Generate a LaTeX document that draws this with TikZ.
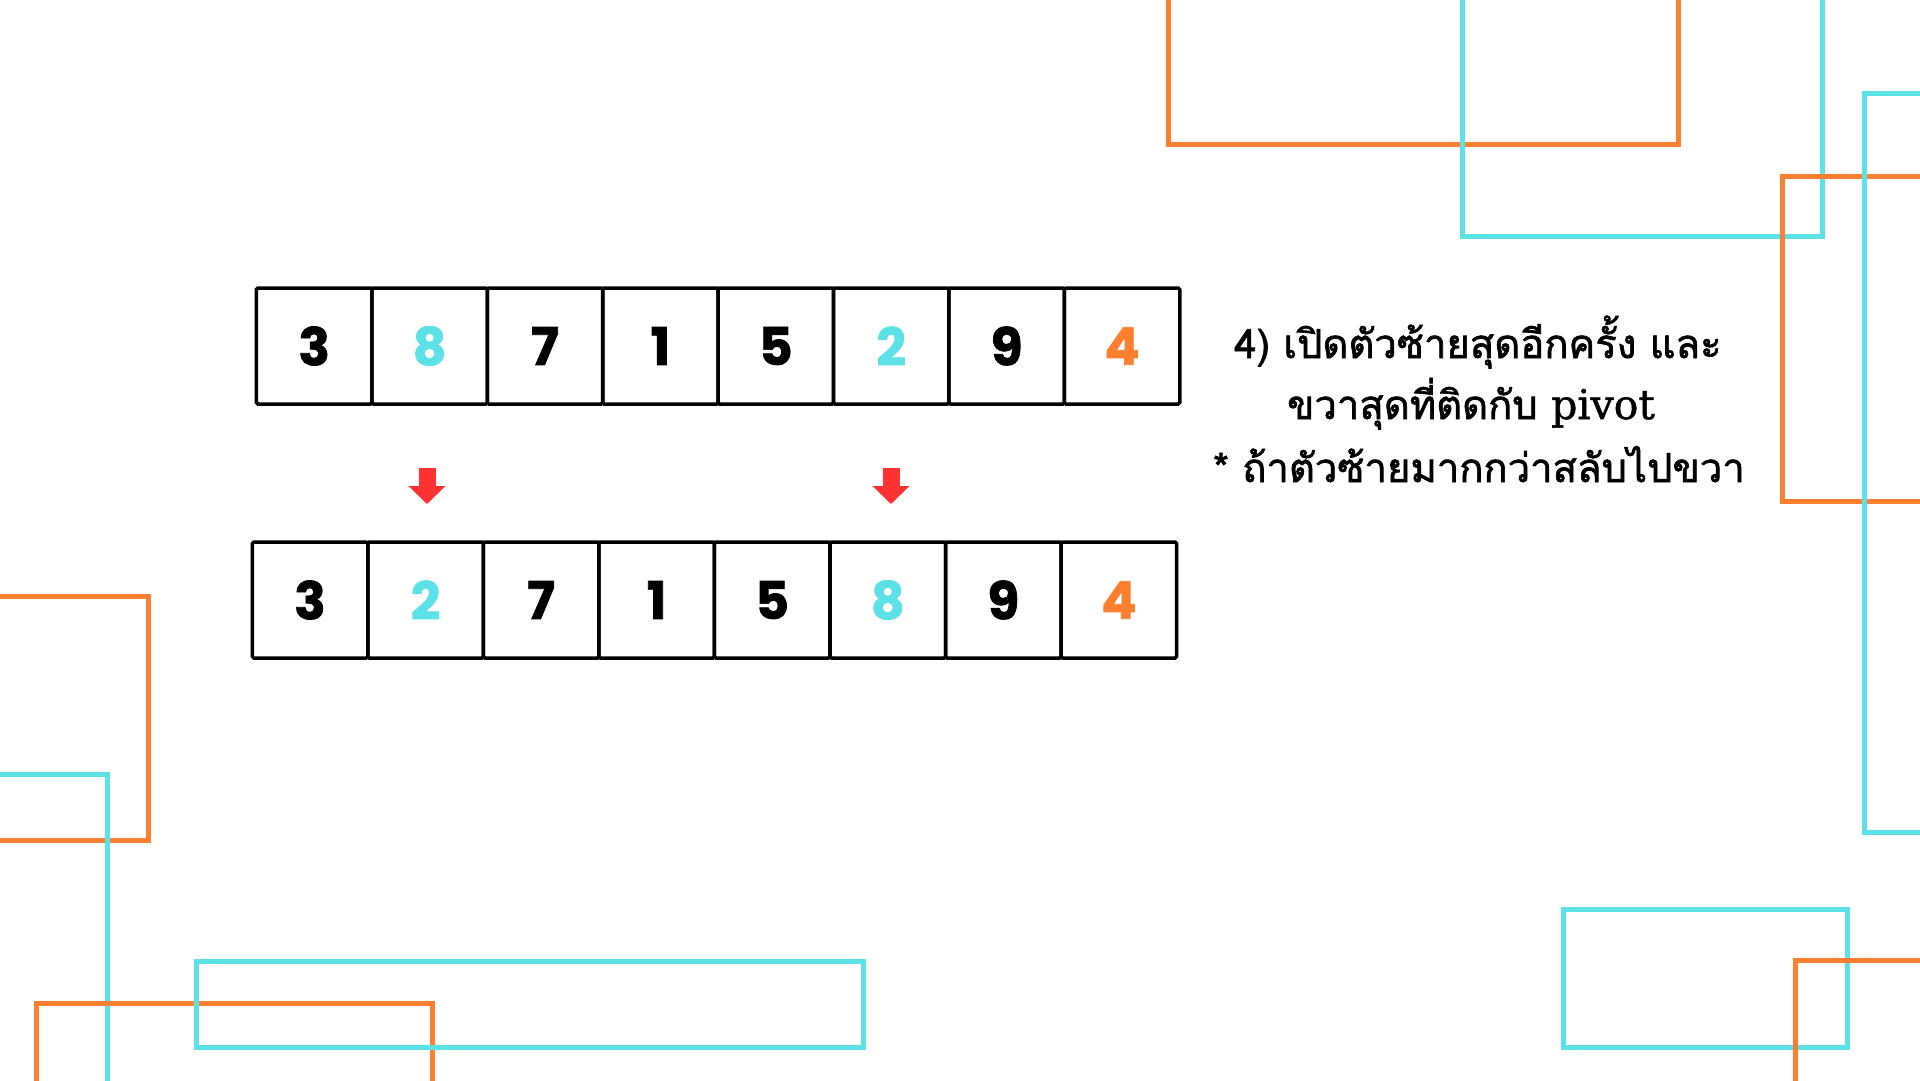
\documentclass[tikz,border=0pt]{standalone}
\usepackage{fontspec}
\usetikzlibrary{arrows.meta}
\newfontfamily\thaifont[Script=Thai,FakeBold=1.6]{Loma}
\newfontfamily\pivotfont[FakeBold=1.2]{DejaVu Serif}
\newfontfamily\digitfont[BoldFeatures={FakeBold=1.4}]{Poppins}
\definecolor{myorange}{HTML}{FF7F30}
\definecolor{mycyan}{HTML}{5CE1E6}
\definecolor{myred}{HTML}{FF3131}
\tikzset{
  deco/.style={line width=5pt},
  decoO/.style={deco, draw=myorange},
  decoC/.style={deco, draw=mycyan},
  cell/.style={draw=black, line width=3.5pt, minimum width=115.5pt, minimum height=116pt, inner sep=0pt,
    rounded corners=1.5pt, font=\digitfont\bfseries\fontsize{52}{52}\selectfont},
  plain/.style={cell, text=black},
  swapc/.style={cell, text=mycyan},
  pivotc/.style={cell, text=myorange},
  downarrow/.style={draw=myred, line width=17pt, line cap=butt, -{Triangle[length=18pt,width=36pt]}},
  note/.style={font=\thaifont\fontsize{40}{40}\selectfont, anchor=base, inner sep=0pt}
}
\begin{document}
\begin{tikzpicture}[x=1pt,y=-1pt]
\useasboundingbox (0,0) rectangle (1920,1080);
\fill[white] (0,0) rectangle (1920,1080);
\clip (0,0) rectangle (1920,1080);
% decorative rectangles
\draw[decoO] (1168,-20) rectangle (1678,144);
\draw[decoC] (1462,-20) rectangle (1822,236);
\draw[decoO] (1782,176) rectangle (1950,501);
\draw[decoC] (1864,93) rectangle (1950,832);
\draw[decoO] (-20,596) rectangle (148,840);
\draw[decoC] (-20,774) rectangle (107,1100);
\draw[decoO] (36,1003) rectangle (432,1100);
\draw[decoC] (196,961) rectangle (863,1047);
\draw[decoC] (1563,909) rectangle (1847,1047);
\draw[decoO] (1795,960) rectangle (1950,1100);
% top row
\node[plain]  (t1) at (314.2,346) {3};
\node[swapc]  (t2) at (429.6,346) {8};
\node[plain]  (t3) at (545.0,346) {7};
\node[plain]  (t4) at (660.4,346) {1};
\node[plain]  (t5) at (775.8,346) {5};
\node[swapc]  (t6) at (891.2,346) {2};
\node[plain]  (t7) at (1006.6,346) {9};
\node[pivotc] (t8) at (1122.0,346) {4};
% bottom row
\node[plain]  (b1) at (310.0,600) {3};
\node[swapc]  (b2) at (425.6,600) {2};
\node[plain]  (b3) at (541.1,600) {7};
\node[plain]  (b4) at (656.7,600) {1};
\node[plain]  (b5) at (772.2,600) {5};
\node[swapc]  (b6) at (887.8,600) {8};
\node[plain]  (b7) at (1003.3,600) {9};
\node[pivotc] (b8) at (1118.9,600) {4};
% arrows
\coordinate (a1s) at (427,468);
\coordinate (a1e) at (427,504);
\coordinate (a2s) at (891,468);
\coordinate (a2e) at (891,504);
\draw[downarrow] (a1s) -- (a1e);
\draw[downarrow] (a2s) -- (a2e);
% notes
\node[note] (n1) at (1478,358) {4) เปิดตัวซ้ายสุดอีกครั้ง และ};
\node[note] (n2) at (1471,419) {ขวาสุดที่ติดกับ {\pivotfont\fontsize{41}{41}\selectfont pivot}};
\node[note] (n3) at (1479,482) {* ถ้าตัวซ้ายมากกว่าสลับไปขวา};
\end{tikzpicture}
\end{document}
